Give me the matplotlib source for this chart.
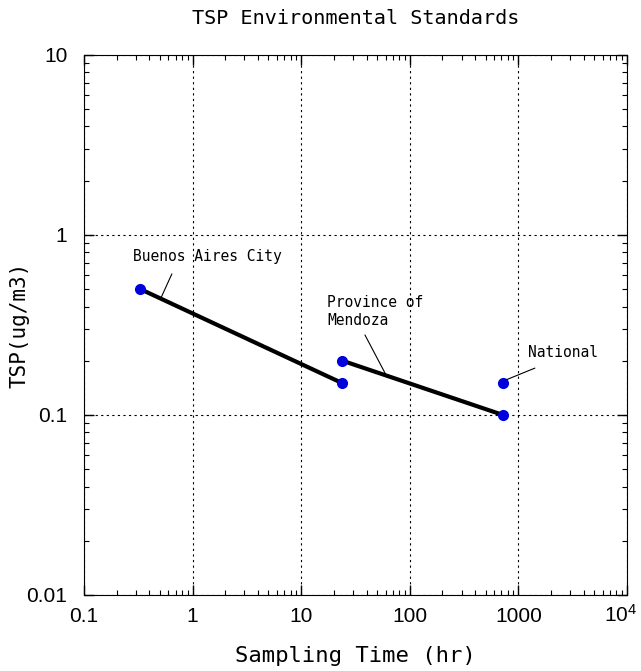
import matplotlib.pyplot as plt
import matplotlib.transforms as mtransforms
from matplotlib.ticker import LogLocator, NullFormatter

# Data
ba_time = [0.33, 24]
ba_tsp = [0.5, 0.15]
mendoza_time = [24, 720]
mendoza_tsp = [0.2, 0.1]
national_time = [720]
national_tsp = [0.15]

xticks = [0.1, 1, 10, 100, 1000, 10000]
xticklabels = ['0.1', '1', '10', '100', '1000', r'10$^{4}$']
yticks = [0.01, 0.1, 1, 10]
yticklabels = ['0.01', '0.1', '1', '10']

plt.rcParams['font.family'] = ['Liberation Sans', 'DejaVu Sans']
plt.rcParams['mathtext.fontset'] = 'custom'
plt.rcParams['mathtext.rm'] = 'Liberation Sans'
plt.rcParams['mathtext.it'] = 'Liberation Sans:italic'
mono = ['DejaVu Sans Mono']

fig = plt.figure(figsize=(6.41, 6.71), dpi=100)
ax = fig.add_axes([0.131, 0.1133, 0.847, 0.805])

ax.plot(ba_time, ba_tsp, color='black', lw=3, zorder=2)
ax.plot(mendoza_time, mendoza_tsp, color='black', lw=3, zorder=2)
for t, v in [(ba_time, ba_tsp), (mendoza_time, mendoza_tsp), (national_time, national_tsp)]:
    ax.plot(t, v, 'o', color='#0000dd', markersize=7, zorder=3)

ax.set_xscale('log')
ax.set_yscale('log')
ax.set_xlim(0.1, 1e4)
ax.set_ylim(0.01, 10)
ax.set_xticks(xticks)
ax.set_xticklabels(xticklabels)
ax.set_yticks(yticks)
ax.set_yticklabels(yticklabels)
ax.xaxis.set_minor_locator(LogLocator(base=10, subs=range(2, 10)))
ax.yaxis.set_minor_locator(LogLocator(base=10, subs=range(2, 10)))
ax.xaxis.set_minor_formatter(NullFormatter())
ax.yaxis.set_minor_formatter(NullFormatter())
ax.tick_params(which='both', direction='in', top=True, right=True, labelsize=15)
ax.tick_params(which='major', length=7, width=1)
ax.tick_params(which='minor', length=3.5, width=0.8)
ax.tick_params(axis='x', which='major', pad=9)
ax.tick_params(axis='y', which='major', pad=12)
ax.grid(True, which='major', linestyle=(0, (2, 3)), color='black', lw=0.8)

# last x label sits slightly left and level with the others, as in the original
last = ax.get_xticklabels()[-1]
last.set_transform(last.get_transform() +
                   mtransforms.ScaledTranslation(-6 / 100, 4 / 100, fig.dpi_scale_trans))

ax.set_title('TSP Environmental Standards', fontsize=14.5, pad=22, family=mono)
ax.set_xlabel('Sampling Time (hr)', fontsize=16, labelpad=14, family=mono)
ax.set_ylabel('TSP(ug/m3)', fontsize=15, labelpad=-2, family=mono)

# Labels with leader lines
lead = dict(arrowstyle='-', color='black', lw=0.8, shrinkA=0, shrinkB=0)
ax.text(0.284, 0.755, 'Buenos Aires City', fontsize=10.5, family=mono,
        ha='left', va='center')
ax.annotate('', xy=(0.512, 0.447), xytext=(0.645, 0.607), arrowprops=lead)
ax.text(17.3, 0.373, 'Province of\nMendoza', fontsize=10.5, family=mono,
        ha='left', va='center', linespacing=1.25)
ax.annotate('', xy=(61.7, 0.163), xytext=(38.7, 0.278), arrowprops=lead)
ax.text(1225, 0.221, 'National', fontsize=10.5, family=mono,
        ha='left', va='center')
ax.annotate('', xy=(760, 0.156), xytext=(1422, 0.182), arrowprops=lead)

fig.savefig('out.png', dpi=100)
